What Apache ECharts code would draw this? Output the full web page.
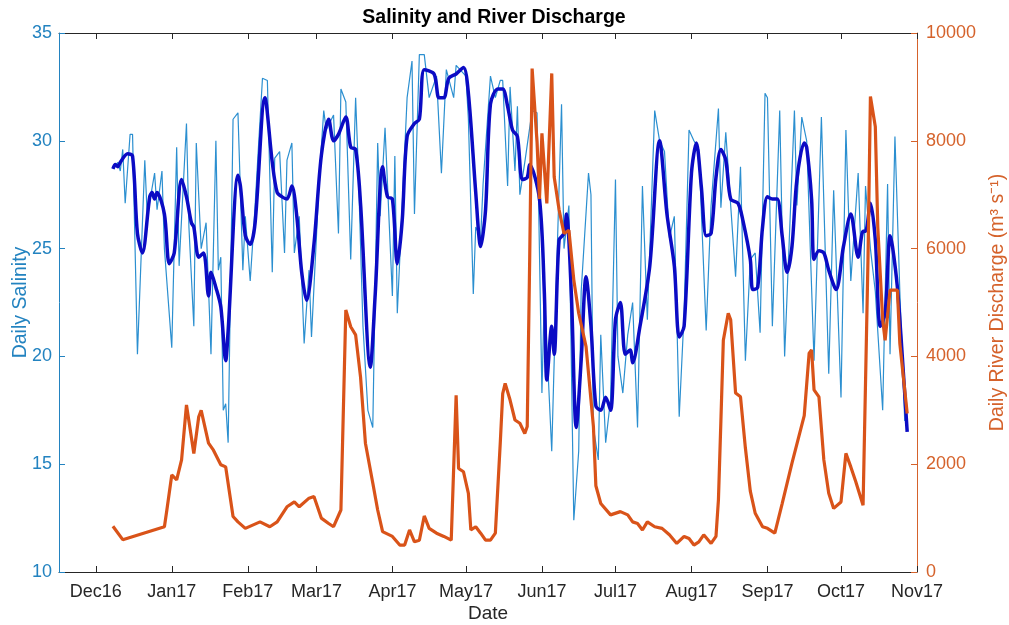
<!DOCTYPE html>
<html>
<head>
<meta charset="utf-8">
<title>Salinity and River Discharge</title>
<script src="https://cdn.jsdelivr.net/npm/echarts@6/dist/echarts.min.js"></script>
<style>
  html, body { margin: 0; padding: 0; background: #fff; }
  #chart { width: 1009px; height: 625px; }
</style>
</head>
<body>
<div id="chart"></div>
<script>
// Month tick positions and their labels
const monthTicks = ['2016-12-01','2017-01-01','2017-02-01','2017-03-01','2017-04-01','2017-05-01',
  '2017-06-01','2017-07-01','2017-08-01','2017-09-01','2017-10-01','2017-11-01'];
const monthLabels = ['Dec16','Jan17','Feb17','Mar17','Apr17','May17','Jun17','Jul17','Aug17','Sep17','Oct17','Nov17'];

// Daily salinity (thin line)
const dailySalinity = [
  ['2016-12-08',28.7],['2016-12-10',29.0],['2016-12-11',28.6],['2016-12-12',29.6],['2016-12-13',27.1],
  ['2016-12-15',30.3],['2016-12-16',30.3],['2016-12-18',20.1],['2016-12-21',29.1],['2016-12-22',26.5],
  ['2016-12-25',28.5],['2016-12-26',26.8],['2016-12-28',28.6],['2016-12-29',25.0],['2017-01-01',20.4],
  ['2017-01-03',29.7],['2017-01-04',24.2],['2017-01-07',30.8],['2017-01-08',26.0],['2017-01-10',21.4],
  ['2017-01-11',29.9],['2017-01-13',25.0],['2017-01-15',26.2],['2017-01-17',20.1],['2017-01-19',30.0],
  ['2017-01-20',24.0],['2017-01-21',24.6],['2017-01-22',17.5],['2017-01-23',17.8],['2017-01-24',16.0],
  ['2017-01-26',31.0],['2017-01-28',31.3],['2017-01-30',24.0],['2017-01-31',26.5],['2017-02-02',23.5],
  ['2017-02-04',27.0],['2017-02-05',29.0],['2017-02-07',32.9],['2017-02-09',32.8],['2017-02-11',23.9],
  ['2017-02-12',29.2],['2017-02-14',29.5],['2017-02-16',24.8],['2017-02-17',29.1],['2017-02-19',29.9],
  ['2017-02-20',24.8],['2017-02-22',26.5],['2017-02-24',20.6],['2017-02-26',24.0],['2017-02-27',20.9],
  ['2017-03-01',25.5],['2017-03-02',28.0],['2017-03-04',31.4],['2017-03-05',30.5],['2017-03-08',31.2],
  ['2017-03-10',25.7],['2017-03-11',32.4],['2017-03-13',31.8],['2017-03-15',24.5],['2017-03-17',32.0],
  ['2017-03-18',29.0],['2017-03-20',21.4],['2017-03-22',17.5],['2017-03-24',16.7],['2017-03-26',29.9],
  ['2017-03-27',26.5],['2017-03-29',30.6],['2017-04-01',22.8],['2017-04-02',29.3],['2017-04-03',22.0],
  ['2017-04-05',27.0],['2017-04-07',32.0],['2017-04-09',33.7],['2017-04-10',26.6],['2017-04-12',34.0],
  ['2017-04-14',34.0],['2017-04-16',32.0],['2017-04-19',33.0],['2017-04-21',28.5],['2017-04-23',33.3],
  ['2017-04-26',32.0],['2017-04-27',33.5],['2017-05-01',33.0],['2017-05-02',31.0],['2017-05-04',22.9],
  ['2017-05-05',26.0],['2017-05-07',25.5],['2017-05-08',28.0],['2017-05-11',33.0],['2017-05-13',32.0],
  ['2017-05-15',32.8],['2017-05-16',32.8],['2017-05-18',27.9],['2017-05-19',32.5],['2017-05-21',28.6],
  ['2017-05-22',31.6],['2017-05-23',27.5],['2017-05-25',29.0],['2017-05-28',31.4],['2017-05-30',31.3],
  ['2017-06-01',18.3],['2017-06-02',23.0],['2017-06-05',15.6],['2017-06-07',24.0],['2017-06-09',31.7],
  ['2017-06-10',25.0],['2017-06-12',27.0],['2017-06-14',12.4],['2017-06-16',15.6],['2017-06-17',23.0],
  ['2017-06-20',28.5],['2017-06-21',27.5],['2017-06-22',16.7],['2017-06-24',15.2],['2017-06-25',21.0],
  ['2017-06-27',16.0],['2017-06-29',18.0],['2017-07-01',28.2],['2017-07-02',20.0],['2017-07-04',18.3],
  ['2017-07-06',21.0],['2017-07-08',22.5],['2017-07-10',16.7],['2017-07-12',27.9],['2017-07-14',21.7],
  ['2017-07-17',31.4],['2017-07-19',30.0],['2017-07-21',29.5],['2017-07-23',25.5],['2017-07-25',26.5],
  ['2017-07-27',17.2],['2017-07-29',22.0],['2017-07-31',30.5],['2017-08-02',30.0],['2017-08-04',29.6],
  ['2017-08-07',21.2],['2017-08-09',27.0],['2017-08-12',31.5],['2017-08-13',26.9],['2017-08-15',30.4],
  ['2017-08-17',27.0],['2017-08-19',23.7],['2017-08-21',28.8],['2017-08-23',19.8],['2017-08-25',24.5],
  ['2017-08-27',24.8],['2017-08-29',21.1],['2017-08-31',32.2],['2017-09-01',32.0],['2017-09-03',21.4],
  ['2017-09-06',31.4],['2017-09-08',20.0],['2017-09-12',31.4],['2017-09-13',27.0],['2017-09-15',31.1],
  ['2017-09-17',30.0],['2017-09-20',19.8],['2017-09-23',31.1],['2017-09-26',19.2],['2017-09-28',27.7],
  ['2017-10-01',18.1],['2017-10-03',30.5],['2017-10-05',23.5],['2017-10-08',28.5],['2017-10-10',22.0],
  ['2017-10-11',27.9],['2017-10-13',25.0],['2017-10-15',23.0],['2017-10-18',17.5],['2017-10-20',28.0],
  ['2017-10-21',20.1],['2017-10-23',30.2],['2017-10-25',23.0],['2017-10-27',17.0]
];

// Smoothed salinity (thick line)
const smoothedSalinity = [
  ['2016-12-08',28.7],['2016-12-09',28.9],['2016-12-10',28.8],['2016-12-11',29.0],['2016-12-14',29.4],
  ['2016-12-16',29.3],['2016-12-18',25.7],['2016-12-20',24.8],['2016-12-23',27.4],['2016-12-24',27.6],
  ['2016-12-25',27.3],['2016-12-26',27.6],['2016-12-29',26.6],['2016-12-31',24.3],['2017-01-02',24.8],
  ['2017-01-05',28.2],['2017-01-07',27.4],['2017-01-09',26.2],['2017-01-10',26.0],['2017-01-12',24.6],
  ['2017-01-14',24.8],['2017-01-16',22.8],['2017-01-17',23.9],['2017-01-19',23.2],['2017-01-21',22.3],
  ['2017-01-23',19.8],['2017-01-24',21.2],['2017-01-28',28.4],['2017-01-29',27.9],['2017-01-31',25.6],
  ['2017-02-02',25.2],['2017-02-04',26.2],['2017-02-08',32.0],['2017-02-11',29.0],['2017-02-13',27.6],
  ['2017-02-15',27.4],['2017-02-17',27.3],['2017-02-19',27.9],['2017-02-21',26.5],['2017-02-23',23.9],
  ['2017-02-25',22.6],['2017-02-28',25.2],['2017-03-03',29.3],['2017-03-06',31.0],['2017-03-08',30.0],
  ['2017-03-10',30.3],['2017-03-13',31.1],['2017-03-15',29.7],['2017-03-17',29.6],['2017-03-19',27.1],
  ['2017-03-23',19.5],['2017-03-25',22.9],['2017-03-28',28.8],['2017-03-30',27.4],['2017-04-01',27.3],
  ['2017-04-03',24.3],['2017-04-05',26.3],['2017-04-07',30.2],['2017-04-10',30.8],['2017-04-12',31.0],
  ['2017-04-14',33.3],['2017-04-18',33.1],['2017-04-20',32.0],['2017-04-22',32.0],['2017-04-24',32.9],
  ['2017-04-27',33.1],['2017-04-30',33.4],['2017-05-02',32.2],['2017-05-05',27.6],['2017-05-07',25.1],
  ['2017-05-09',26.8],['2017-05-11',31.7],['2017-05-14',32.4],['2017-05-16',32.4],['2017-05-18',31.6],
  ['2017-05-20',30.5],['2017-05-22',30.2],['2017-05-24',28.2],['2017-05-26',28.3],['2017-05-27',28.9],
  ['2017-05-31',27.3],['2017-06-02',22.9],['2017-06-03',18.9],['2017-06-05',21.4],['2017-06-06',20.1],
  ['2017-06-08',25.4],['2017-06-10',25.7],['2017-06-11',26.6],['2017-06-13',22.9],['2017-06-15',16.7],
  ['2017-06-17',19.8],['2017-06-19',23.7],['2017-06-21',21.4],['2017-06-23',17.7],['2017-06-25',17.5],
  ['2017-06-27',18.1],['2017-06-29',17.5],['2017-07-01',21.7],['2017-07-03',22.5],['2017-07-05',20.1],
  ['2017-07-07',20.3],['2017-07-08',19.7],['2017-07-11',21.4],['2017-07-15',24.2],['2017-07-19',30.0],
  ['2017-07-22',26.6],['2017-07-25',24.2],['2017-07-27',20.9],['2017-07-29',21.4],['2017-08-01',28.5],
  ['2017-08-03',29.9],['2017-08-05',27.9],['2017-08-07',25.6],['2017-08-09',25.7],['2017-08-11',28.3],
  ['2017-08-13',29.6],['2017-08-15',29.1],['2017-08-17',27.3],['2017-08-20',27.1],['2017-08-22',26.3],
  ['2017-08-25',24.5],['2017-08-26',23.1],['2017-08-28',23.2],['2017-08-30',26.0],['2017-09-01',27.4],
  ['2017-09-03',27.3],['2017-09-05',27.3],['2017-09-07',25.6],['2017-09-09',23.9],['2017-09-11',25.1],
  ['2017-09-13',28.2],['2017-09-16',29.9],['2017-09-17',29.7],['2017-09-19',27.3],['2017-09-20',24.5],
  ['2017-09-22',24.9],['2017-09-24',24.8],['2017-09-26',24.0],['2017-09-29',23.1],['2017-10-02',25.1],
  ['2017-10-05',26.6],['2017-10-08',24.6],['2017-10-10',25.8],['2017-10-11',25.8],['2017-10-13',27.1],
  ['2017-10-15',25.4],['2017-10-17',21.4],['2017-10-19',22.0],['2017-10-21',25.6],['2017-10-22',25.1],
  ['2017-10-24',23.2],['2017-10-26',20.0],['2017-10-28',16.5]
];

// Daily river discharge, m^3 s^-1
const riverDischarge = [
  ['2016-12-08',850],['2016-12-12',600],['2016-12-29',840],['2016-12-30',1150],['2017-01-01',1800],
  ['2017-01-03',1710],['2017-01-05',2080],['2017-01-07',3100],['2017-01-10',2200],['2017-01-12',2880],
  ['2017-01-13',3000],['2017-01-16',2390],['2017-01-18',2260],['2017-01-21',1990],['2017-01-23',1950],
  ['2017-01-26',1030],['2017-01-28',930],['2017-01-31',810],['2017-02-06',930],['2017-02-10',840],
  ['2017-02-13',930],['2017-02-17',1210],['2017-02-20',1300],['2017-02-22',1210],['2017-02-26',1370],
  ['2017-02-28',1400],['2017-03-03',1000],['2017-03-06',900],['2017-03-08',840],['2017-03-11',1150],
  ['2017-03-13',4860],['2017-03-15',4550],['2017-03-17',4400],['2017-03-19',3620],['2017-03-21',2390],
  ['2017-03-24',1650],['2017-03-26',1150],['2017-03-28',750],['2017-04-01',660],['2017-04-04',500],
  ['2017-04-06',500],['2017-04-08',780],['2017-04-10',560],['2017-04-12',590],['2017-04-14',1040],
  ['2017-04-16',810],['2017-04-19',720],['2017-04-22',660],['2017-04-25',590],['2017-04-27',3280],
  ['2017-04-28',1920],['2017-04-30',1860],['2017-05-02',1460],['2017-05-03',780],['2017-05-05',840],
  ['2017-05-07',720],['2017-05-09',590],['2017-05-11',590],['2017-05-13',720],['2017-05-15',2390],
  ['2017-05-16',3310],['2017-05-17',3500],['2017-05-19',3190],['2017-05-21',2820],['2017-05-23',2760],
  ['2017-05-25',2570],['2017-05-26',2700],['2017-05-27',5790],['2017-05-28',9340],['2017-05-30',7980],
  ['2017-05-31',6920],['2017-06-01',8140],['2017-06-03',6840],['2017-06-05',9250],['2017-06-06',7330],
  ['2017-06-08',6720],['2017-06-10',6280],['2017-06-12',6340],['2017-06-14',5420],['2017-06-16',4800],
  ['2017-06-19',4180],['2017-06-22',2700],['2017-06-23',1600],['2017-06-25',1270],['2017-06-29',1060],
  ['2017-07-03',1120],['2017-07-06',1060],['2017-07-08',930],['2017-07-10',900],['2017-07-12',780],
  ['2017-07-14',930],['2017-07-17',840],['2017-07-20',810],['2017-07-23',690],['2017-07-26',530],
  ['2017-07-29',660],['2017-07-31',620],['2017-08-02',500],['2017-08-04',560],['2017-08-06',690],
  ['2017-08-09',530],['2017-08-11',660],['2017-08-12',1340],['2017-08-13',2800],['2017-08-14',4300],
  ['2017-08-16',4800],['2017-08-17',4680],['2017-08-19',3320],['2017-08-21',3250],['2017-08-23',2300],
  ['2017-08-25',1500],['2017-08-27',1090],['2017-08-30',840],['2017-09-01',810],['2017-09-04',720],
  ['2017-09-07',1270],['2017-09-11',2020],['2017-09-16',2900],['2017-09-18',4060],['2017-09-19',4120],
  ['2017-09-20',3380],['2017-09-22',3250],['2017-09-24',2080],['2017-09-26',1460],['2017-09-28',1180],
  ['2017-10-01',1300],['2017-10-03',2200],['2017-10-05',1950],['2017-10-07',1680],['2017-10-10',1240],
  ['2017-10-12',5790],['2017-10-13',8820],['2017-10-15',8260],['2017-10-16',6400],['2017-10-18',4680],
  ['2017-10-19',4300],['2017-10-21',5230],['2017-10-24',5230],['2017-10-25',4240],['2017-10-28',2940]
];

const FONT = 'Liberation Sans, Arial, Helvetica, sans-serif';
const SAL_COLOR = '#2383c0';
const DIS_COLOR = '#d5622b';
const AXIS_DARK = '#262626';

const toTime = d => Date.parse(d);
const asPoints = rows => rows.map(r => [toTime(r[0]), r[1]]);
const tickTimes = monthTicks.map(toTime);
const labelFor = v => {
  const i = tickTimes.indexOf(v);
  return i >= 0 ? monthLabels[i] : '';
};

const xMin = toTime('2016-11-16');
const xMax = toTime('2017-11-01');

const chart = echarts.init(document.getElementById('chart'), null, { renderer: 'canvas' });

const option = {
  animation: false,
  backgroundColor: '#ffffff',
  title: {
    text: 'Salinity and River Discharge',
    left: 489, top: 3, textAlign: 'center',
    textStyle: { fontFamily: FONT, fontSize: 19.5, fontWeight: 'bold', color: '#000' }
  },
  grid: { left: 59, right: 92, top: 33, bottom: 53, containLabel: false, outerBoundsMode: 'none' },
  xAxis: [
    {
      type: 'value', position: 'bottom', min: xMin, max: xMax,
      name: 'Date', nameLocation: 'middle', nameGap: 32, nameMoveOverlap: false,
      nameTextStyle: { fontFamily: FONT, fontSize: 19, color: AXIS_DARK },
      axisLine: { show: true, lineStyle: { color: AXIS_DARK, width: 1 } },
      axisTick: { show: true, inside: true, length: 6, customValues: tickTimes, lineStyle: { color: AXIS_DARK } },
      axisLabel: { customValues: tickTimes, formatter: labelFor, fontFamily: FONT, fontSize: 18, color: AXIS_DARK, margin: 11 },
      splitLine: { show: false }
    },
    {
      type: 'value', position: 'top', min: xMin, max: xMax,
      axisLine: { show: true, lineStyle: { color: AXIS_DARK, width: 1 } },
      axisTick: { show: true, inside: true, length: 6, customValues: tickTimes, lineStyle: { color: AXIS_DARK } },
      axisLabel: { show: false },
      splitLine: { show: false }
    }
  ],
  yAxis: [
    {
      type: 'value', position: 'left', min: 10, max: 35, interval: 5,
      name: 'Daily Salinity', nameLocation: 'middle', nameGap: 28, nameRotate: 90, nameMoveOverlap: false,
      nameTextStyle: { fontFamily: FONT, fontSize: 19.5, color: SAL_COLOR },
      axisLine: { show: true, lineStyle: { color: SAL_COLOR, width: 1 } },
      axisTick: { show: true, inside: true, length: 6, lineStyle: { color: SAL_COLOR } },
      axisLabel: { fontFamily: FONT, fontSize: 18, color: SAL_COLOR, margin: 7 },
      splitLine: { show: false }
    },
    {
      type: 'value', position: 'right', min: 0, max: 10000, interval: 2000,
      name: 'Daily River Discharge (m³ s⁻¹)', nameLocation: 'middle', nameGap: 71, nameRotate: 90, nameMoveOverlap: false,
      nameTextStyle: { fontFamily: FONT, fontSize: 19.5, color: DIS_COLOR },
      axisLine: { show: true, lineStyle: { color: DIS_COLOR, width: 1 } },
      axisTick: { show: true, inside: true, length: 6, lineStyle: { color: DIS_COLOR } },
      axisLabel: { fontFamily: FONT, fontSize: 18, color: DIS_COLOR, margin: 9, formatter: v => String(v) },
      splitLine: { show: false }
    }
  ],
  series: [
    {
      name: 'Daily salinity', type: 'line', xAxisIndex: 0, yAxisIndex: 0,
      data: asPoints(dailySalinity), showSymbol: false, symbol: 'none',
      lineStyle: { color: '#2b8fd0', width: 1.2 }, z: 2
    },
    {
      name: 'Smoothed salinity', type: 'line', xAxisIndex: 0, yAxisIndex: 0,
      data: asPoints(smoothedSalinity), showSymbol: false, symbol: 'none', smooth: 0.3,
      lineStyle: { color: '#0b0bc4', width: 3.5 }, z: 3
    },
    {
      name: 'River discharge', type: 'line', xAxisIndex: 0, yAxisIndex: 1,
      data: asPoints(riverDischarge), showSymbol: false, symbol: 'none',
      lineStyle: { color: '#d95319', width: 3.2 }, z: 4
    }
  ]
};

chart.setOption(option);
</script>
</body>
</html>
